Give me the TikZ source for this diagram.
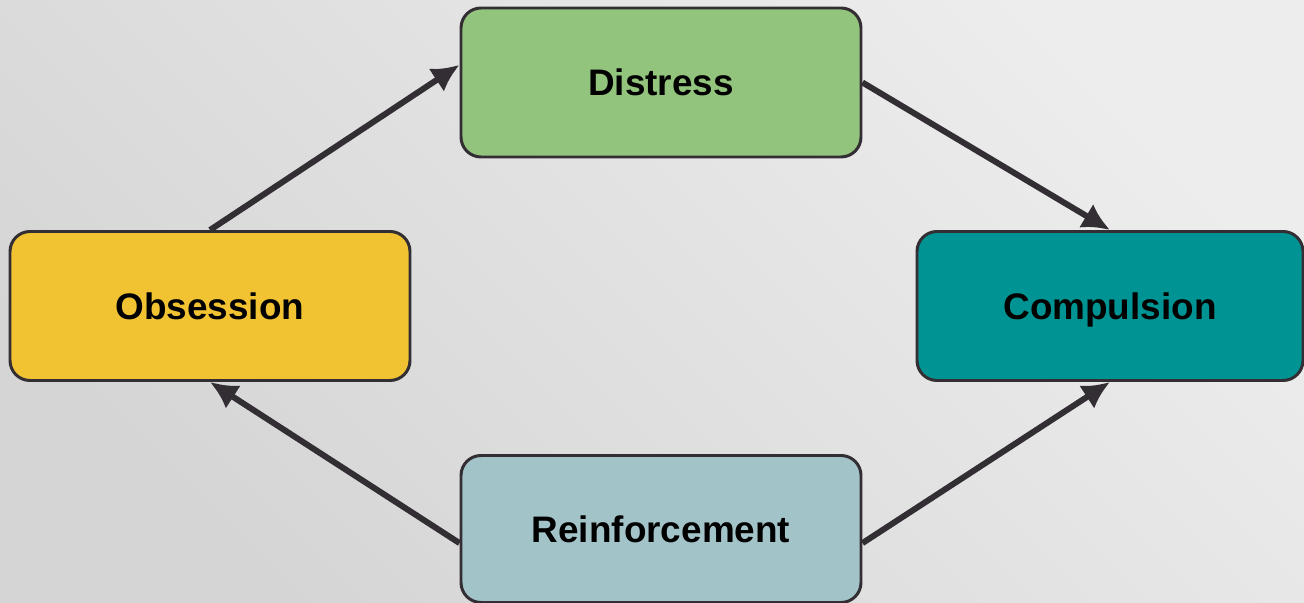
\documentclass[tikz,border=0pt]{standalone}
\usepackage{fontspec}
\setmainfont{Liberation Sans}
\usetikzlibrary{arrows.meta,positioning}
\definecolor{cycleInk}{HTML}{322E33}
\definecolor{cycleGreen}{HTML}{93C47D}
\definecolor{cycleYellow}{HTML}{F1C232}
\definecolor{cycleTeal}{HTML}{009393}
\definecolor{cycleBlue}{HTML}{A2C4C9}
\definecolor{bgDark}{HTML}{D5D5D5}
\definecolor{bgLight}{HTML}{EDEDED}

\begin{document}
\begin{tikzpicture}[font=\fontsize{21}{25}\selectfont\bfseries]
    \tikzset{stage/.style={draw=cycleInk,line width=1.7pt,rounded corners=0.4cm,minimum width=8cm,minimum height=2.98cm,
        text height=15pt,text depth=0pt,inner sep=2pt},
      link/.style={-{Latex[length=5.5mm,width=5.5mm]},cycleInk,line width=3.4pt}}
    \shade[left color=bgDark,right color=bgLight,shading angle=135] (0,0) rectangle (26.08,12.06);
    \useasboundingbox (0,0) rectangle (26.08,12.06);
    \node[stage,fill=cycleYellow] (obs) at (4.2,5.94) {Obsession};
    \node[stage,fill=cycleGreen] (dis) at (13.22,10.41) {Distress};
    \node[stage,fill=cycleTeal,minimum width=7.72cm] (com) at (22.2,5.94) {Compulsion};
    \node[stage,fill=cycleBlue,minimum height=2.94cm] (rei) at (13.22,1.48) {Reinforcement};
    \draw[link] (obs.north) -- (dis.175);
    \draw[link] (dis.east) -- (com.north);
    \draw[link] (rei.356) -- (com.south);
    \draw[link] (rei.184) -- (obs.south);
  \end{tikzpicture}
\end{document}
